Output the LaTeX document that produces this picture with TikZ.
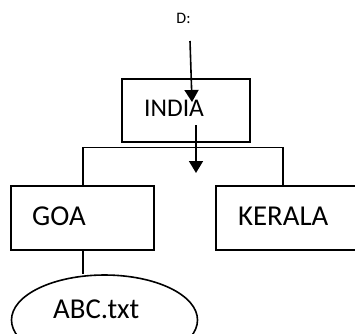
\documentclass[tikz,border=0pt]{standalone}
\usepackage{fontspec}
\setmainfont{Carlito}
\usetikzlibrary{shapes.geometric,arrows.meta}
\begin{document}
\begin{tikzpicture}[x=1pt,y=-1pt,
  box/.style={draw,line width=1.6pt,rectangle,inner sep=0pt},
  lbl/.style={anchor=base west,inner sep=0pt,font=\fontsize{28.8}{30}\selectfont},
  conn/.style={line width=1.6pt},
  arr/.style={line width=1.6pt,-{Triangle[length=12pt,width=14pt]}}]
\useasboundingbox (0,0) rectangle (355,333);
\clip (0,0) rectangle (355,333);
% boxes
\node[box,minimum width=128pt,minimum height=63pt] (india) at (186,110.5) {};
\node[box,minimum width=143pt,minimum height=64pt] (goa) at (82.5,218) {};
\node[box,minimum width=160pt,minimum height=64pt] (kerala) at (296,218) {};
\node[draw,line width=1.6pt,ellipse,minimum width=186pt,minimum height=90pt,inner sep=0pt] (abc) at (104.5,320) {};
% labels
\node[anchor=base,inner sep=0pt,font=\fontsize{16}{18}\selectfont] (d) at (183.5,23) {D:};
\node[lbl,font=\fontsize{25.5}{27}\selectfont] (tindia) at (144,116) {INDIA};
\node[lbl] (tgoa) at (32,225) {GOA};
\node[lbl] (tkerala) at (238,225) {KERALA};
\node[lbl] (tabc) at (53,318) {ABC.txt};
% coordinates
\coordinate (a1s) at (190,41);
\coordinate (a1e) at (192,102);
\coordinate (a2s) at (196,125);
\coordinate (a2e) at (196,173);
\coordinate (bl) at (83,147.5);
\coordinate (br) at (283,147.5);
% connectors
\draw[arr] (a1s) -- (a1e);
\draw[arr] (a2s) -- (a2e);
\draw[conn] (goa.north -| bl) -- (bl) -- (br) -- (kerala.north -| br);
\draw[conn] (goa.south -| bl) -- (abc.north -| bl);
\end{tikzpicture}
\end{document}
